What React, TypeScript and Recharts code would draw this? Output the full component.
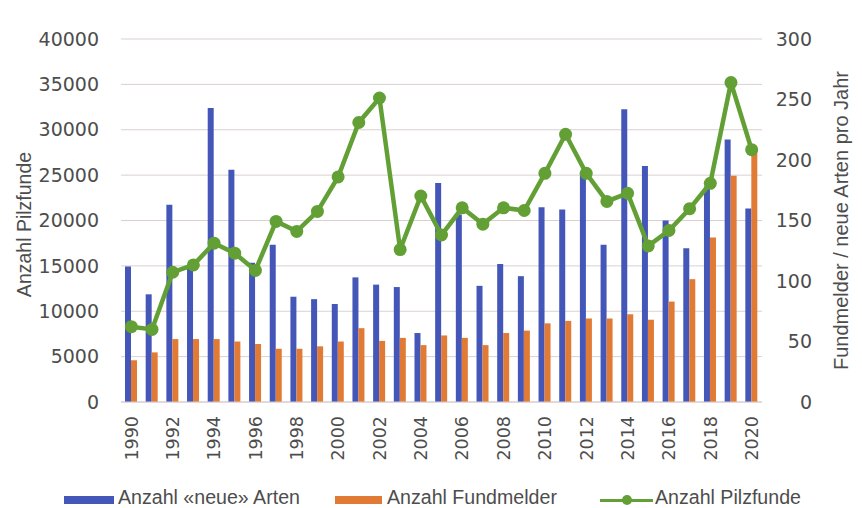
import { ComposedChart, Bar, Line, XAxis, YAxis, CartesianGrid, Legend } from 'recharts'

const years = [
  '1990', '1991', '1992', '1993', '1994', '1995', '1996', '1997', '1998', '1999',
  '2000', '2001', '2002', '2003', '2004', '2005', '2006', '2007', '2008', '2009',
  '2010', '2011', '2012', '2013', '2014', '2015', '2016', '2017', '2018', '2019', '2020',
]

// right axis (pro Jahr)
const neueArten = [
  112, 89, 163, 112, 243, 192, 115, 130, 87, 85,
  81, 103, 97, 95, 57, 181, 155, 96, 114, 104,
  161, 159, 190, 130, 242, 195, 150, 127, 178, 217, 160,
]
const fundmelder = [
  34.5, 41, 52, 52, 52, 50, 48, 44, 44, 46,
  50, 61, 50.5, 53, 47, 55, 53, 47, 57, 59,
  65, 67, 69, 69, 72.5, 68, 83, 101.5, 136, 187, 207,
]

// left axis
const pilzfunde = [
  8300, 8000, 14300, 15100, 17500, 16400, 14500, 19900, 18800, 21000,
  24800, 30800, 33500, 16800, 22700, 18400, 21400, 19600, 21400, 21100,
  25200, 29500, 25200, 22100, 23000, 17200, 18900, 21300, 24100, 35200, 27800,
]

const leftTicks = [0, 5000, 10000, 15000, 20000, 25000, 30000, 35000, 40000]
const rightTicks = [0, 50, 100, 150, 200, 250, 300]

const BLUE = '#4457b8'
const ORANGE = '#e07a34'
const GREEN = '#62a035'
const TEXT = '#4d4d4d'
const tickFont = '"DejaVu Sans", sans-serif'
const labelFont = '"Liberation Sans", Arial, sans-serif'

const data = years.map((year, i) => ({
  year,
  neueArten: neueArten[i],
  fundmelder: fundmelder[i],
  pilzfunde: pilzfunde[i],
}))

const YearTick = (props: any) => {
  const { x, y, payload } = props
  const ty = y + 6
  return (
    <text
      x={x}
      y={ty}
      dy="0.36em"
      textAnchor="end"
      transform={`rotate(-90, ${x}, ${ty})`}
      fill={TEXT}
      fontSize={17.5}
      fontFamily={tickFont}
    >
      {payload.value}
    </text>
  )
}

const RightTick = (props: any) => {
  const { x, y, payload } = props
  return (
    <text x={x + 42} y={y} dy="0.36em" textAnchor="end" fill={TEXT} fontSize={19} fontFamily={tickFont}>
      {payload.value}
    </text>
  )
}

const LeftTitle = (props: any) => {
  const { viewBox } = props
  const cx = 24
  const cy = viewBox.y + viewBox.height / 2 + 4
  return (
    <text
      x={cx}
      y={cy}
      dy="0.36em"
      textAnchor="middle"
      transform={`rotate(-90, ${cx}, ${cy})`}
      fill={TEXT}
      fontSize={19.5}
      fontFamily={labelFont}
    >
      Anzahl Pilzfunde
    </text>
  )
}

const RightTitle = (props: any) => {
  const { viewBox } = props
  const cx = viewBox.x + 79
  const cy = viewBox.y + viewBox.height / 2
  return (
    <text
      x={cx}
      y={cy}
      dy="0.36em"
      textAnchor="middle"
      transform={`rotate(-90, ${cx}, ${cy})`}
      fill={TEXT}
      fontSize={20}
      fontFamily={labelFont}
    >
      Fundmelder / neue Arten pro Jahr
    </text>
  )
}

const textStyle = {
  position: 'absolute' as const,
  top: 19,
  height: 20,
  lineHeight: '20px',
  fontSize: 19.6,
  fontFamily: labelFont,
  color: TEXT,
  whiteSpace: 'nowrap' as const,
}

const LegendBox = () => (
  <div style={{ position: 'relative', width: 862, height: 40 }}>
    <div style={{ position: 'absolute', left: 64, top: 28, width: 50, height: 8, background: BLUE }} />
    <div style={{ ...textStyle, left: 118 }}>Anzahl «neue» Arten</div>
    <div style={{ position: 'absolute', left: 335, top: 28, width: 47, height: 8, background: ORANGE }} />
    <div style={{ ...textStyle, left: 387 }}>Anzahl Fundmelder</div>
    <div style={{ position: 'absolute', left: 600, top: 31, width: 53, height: 3, background: GREEN }} />
    <div style={{ position: 'absolute', left: 622, top: 27, width: 10, height: 10, borderRadius: 5, background: GREEN }} />
    <div style={{ ...textStyle, left: 655 }}>Anzahl Pilzfunde</div>
  </div>
)

export default function App() {
  return (
    <div style={{ position: 'absolute', left: 0, top: 0, background: '#fff' }}>
      <ComposedChart
        width={862}
        height={508}
        data={data}
        margin={{ top: 39, right: 0, bottom: 0, left: 0 }}
        barSize={6}
        barGap={0}
      >
        <CartesianGrid yAxisId="left" vertical={false} stroke="#dbd0d0" />
        <XAxis
          dataKey="year"
          interval={1}
          height={66}
          tickLine={false}
          axisLine={{ stroke: '#d6cccc' }}
          tick={<YearTick />}
        />
        <YAxis
          yAxisId="left"
          orientation="left"
          width={121}
          domain={[0, 40000]}
          ticks={leftTicks}
          tickLine={false}
          axisLine={false}
          tickMargin={16}
          tick={{ fill: TEXT, fontSize: 19, fontFamily: tickFont }}
          label={<LeftTitle />}
        />
        <YAxis
          yAxisId="right"
          orientation="right"
          width={100}
          domain={[0, 300]}
          ticks={rightTicks}
          tickLine={false}
          axisLine={false}
          tick={<RightTick />}
          label={<RightTitle />}
        />
        <Legend verticalAlign="bottom" height={40} content={() => <LegendBox />} wrapperStyle={{ left: 0, width: 862 }} />
        <Bar yAxisId="right" dataKey="neueArten" fill={BLUE} isAnimationActive={false} />
        <Bar yAxisId="right" dataKey="fundmelder" fill={ORANGE} isAnimationActive={false} />
        <Line
          yAxisId="left"
          type="linear"
          dataKey="pilzfunde"
          stroke={GREEN}
          strokeWidth={4.5}
          dot={{ r: 6.5, fill: GREEN, stroke: 'none' }}
          isAnimationActive={false}
        />
      </ComposedChart>
    </div>
  )
}
